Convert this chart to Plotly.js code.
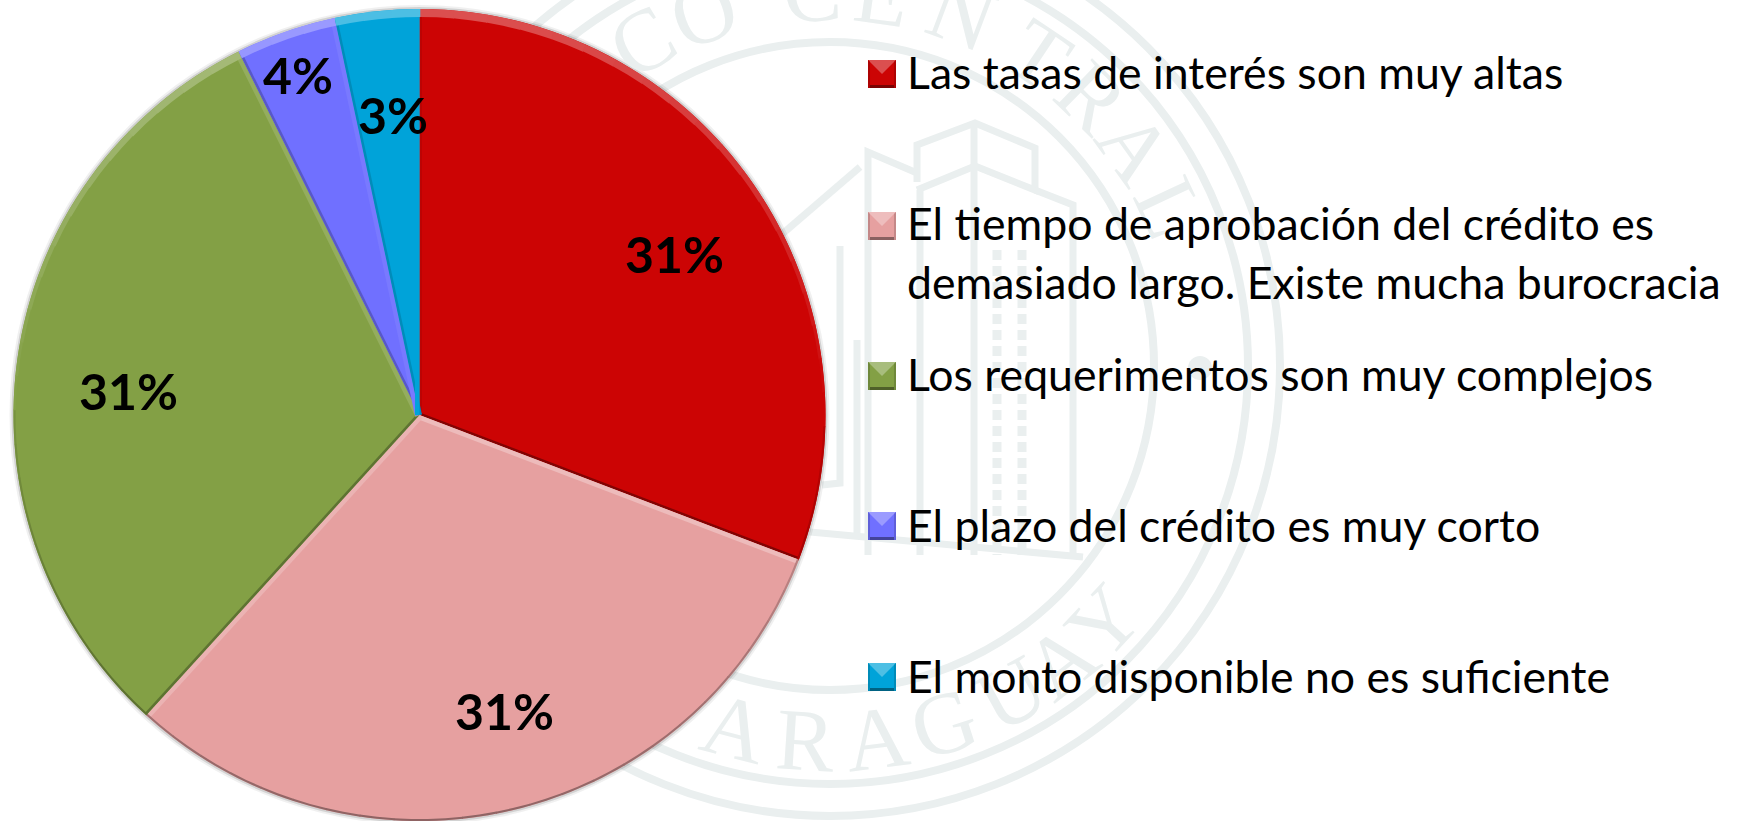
<!DOCTYPE html>
<html><head><meta charset="utf-8">
<script src="https://cdn.plot.ly/plotly-3.0.1.min.js"></script>
<style>html,body{margin:0;padding:0;background:#fff;overflow:hidden}#chart{width:1742px;height:821px}</style>
</head><body><div id="chart"></div>
<script>
// --- data ---
const categories = ["Las tasas de interés son muy altas",
  "El tiempo de aprobación del crédito es<br>demasiado largo. Existe mucha burocracia",
  "Los requerimentos son muy complejos",
  "El plazo del crédito es muy corto",
  "El monto disponible no es suficiente"];
const values = [30.8, 30.95, 30.9, 4.0, 3.35];
const colors = ["#CC0404", "#E6A0A0", "#83A045", "#7070FF", "#00A3D9"];
// --- placement (pixels of the 1742x821 frame) ---
const W = 1742, H = 821;
const pie = {cx: 419.5, cy: 415, r: 406};
const labelPos = [[674,254],[505,711],[128,391],[298,75],[393,115]];
const swatchY = [74,226,376,526,677];
const lineBase = [[87],[237,296],[388],[539],[690]];
const seal = {cx: 830, cy: 366, rings: [324,418,450], r: 375, color: "#EAEFEF"};
const sealTop = [["C",-30],["O",-19.6],["C",-2.6],["E",8],["N",20.6],["T",33.8],["R",44.3],["A",54.3],["L",65]];
const sealBottom = [["Y",47],["A",38],["U",29],["G",17.7],["A",7.2],["R",-3.7],["A",-14.6]];
const building = [
  "M917,182 L917,145 L975,123 L1035,148 L1035,190 L975,166 L917,190",
  "M868,555 L868,152 L917,173","M860,167 L781,235","M840,246 L840,483 L822,485",
  "M857,340 L857,535","M810,532 L1083,557","M920,190 L920,555","M974,125 L974,555",
  "M1035,190 L1073,205 L1073,555"];
const buildingDash = ["M997,250 L997,555","M1022,250 L1022,555"];

const X = p => p / W, Y = p => 1 - p / H;
const path = pts => pts.map((q,i)=>(i?"L":"M")+X(q[0]).toFixed(5)+","+Y(q[1]).toFixed(5)).join(" ")+" Z";
const mix = (hex, t, v) => { const n=parseInt(hex.slice(1),16);
  const c=[n>>16,(n>>8)&255,n&255].map(k=>Math.round(k+(v-k)*t)); return `rgb(${c})`; };
const shade = (hex,l) => l>0 ? mix(hex,l*0.3,255) : mix(hex,0.08+0.3*(-l),0);
const polar = (r,a) => [pie.cx+r*Math.sin(a), pie.cy-r*Math.cos(a)];
const shapes = [], annotations = [];

// watermark
const wmLine = {color: seal.color, width: 8};
seal.rings.forEach(r => shapes.push({type:"circle",layer:"below",xref:"paper",yref:"paper",
  x0:X(seal.cx-r),x1:X(seal.cx+r),y0:Y(seal.cy+r),y1:Y(seal.cy-r),line:wmLine}));
shapes.push({type:"circle",layer:"below",xref:"paper",yref:"paper",x0:X(1188),x1:X(1212),y0:Y(380),y1:Y(356),
  fillcolor:seal.color,line:{width:0}});
const toPaperPath = d => d.replace(/([ML])(\d+),(\d+)/g,(m,c,a,b)=>c+X(+a).toFixed(5)+","+Y(+b).toFixed(5));
building.forEach(d => shapes.push({type:"path",layer:"below",xref:"paper",yref:"paper",path:toPaperPath(d),line:{color:seal.color,width:7}}));
buildingDash.forEach(d => shapes.push({type:"path",layer:"below",xref:"paper",yref:"paper",path:toPaperPath(d),line:{color:seal.color,width:9,dash:"10px,6px"}}));
// soft shadow round the pie
[[4,0.06],[2,0.12]].forEach(s => shapes.push({type:"circle",layer:"below",xref:"paper",yref:"paper",
  x0:X(pie.cx-pie.r-s[0]),x1:X(pie.cx+pie.r+s[0]),y0:Y(pie.cy+pie.r+s[0]),y1:Y(pie.cy-pie.r-s[0]),
  fillcolor:`rgba(0,0,0,${s[1]})`,line:{width:0}}));
const sealLetter = (ch,deg,bottom) => { const a=deg*Math.PI/180;
  const x = seal.cx+seal.r*Math.sin(a), y = bottom ? seal.cy+seal.r*Math.cos(a) : seal.cy-seal.r*Math.cos(a);
  annotations.push({xref:"paper",yref:"paper",x:X(x),y:Y(y),text:ch,showarrow:false,xanchor:"center",yanchor:"middle",
    textangle:bottom?-deg:deg,font:{family:"Liberation Serif",size:88,color:seal.color}}); };
sealTop.forEach(s=>sealLetter(s[0],s[1],false));
sealBottom.forEach(s=>sealLetter(s[0],s[1],true));

// bevel on the slices, derived from the values
const total = values.reduce((a,b)=>a+b,0);
let cum = 0;
values.forEach((v,i)=>{
  const a0 = cum/total*2*Math.PI; cum += v; const a1 = cum/total*2*Math.PI;
  const base = colors[i];
  const addEdge = (a,sign) => {
    const l = sign>0 ? Math.sin(a) : -Math.sin(a);
    const w = l>0 ? 4.5 : 2.5;
    const d = [sign*Math.cos(a), sign*Math.sin(a)];
    const rim = polar(pie.r-1,a);
    shapes.push({type:"path",layer:"above",xref:"paper",yref:"paper",line:{width:0},fillcolor:shade(base,l),
      path:path([[pie.cx,pie.cy],rim,[rim[0]+d[0]*w,rim[1]+d[1]*w],[pie.cx+d[0]*w,pie.cy+d[1]*w]])});
  };
  addEdge(a0,1); addEdge(a1,-1);
  const n = Math.max(2,Math.ceil((a1-a0)/(Math.PI/36)));
  for(let k=0;k<n;k++){
    const s=a0+(a1-a0)*k/n, e=a0+(a1-a0)*(k+1)/n+0.002, m=(s+e)/2;
    const l=Math.cos(m), w=2+6*Math.max(l,0);
    shapes.push({type:"path",layer:"above",xref:"paper",yref:"paper",line:{width:0},fillcolor:shade(base,l),
      path:path([polar(pie.r,s),polar(pie.r,(s+m)/2),polar(pie.r,m),polar(pie.r,(m+e)/2),polar(pie.r,e),polar(pie.r-w,e),polar(pie.r-w,m),polar(pie.r-w,s)])});
  }
});

// slice labels
values.forEach((v,i)=>annotations.push({xref:"paper",yref:"paper",x:X(labelPos[i][0]),y:Y(labelPos[i][1]),
  text:Math.round(v/total*100)+"%",showarrow:false,xanchor:"center",yanchor:"middle",
  font:{family:"Lato",size:50,weight:700,color:"#000"}}));

// legend
const sx0=868, sx1=896, sh=14;
colors.forEach((c,i)=>{
  const y=swatchY[i], t=y-sh, b=y+sh, mx=(sx0+sx1)/2;
  const ps=(pts,f)=>shapes.push({type:"path",layer:"above",xref:"paper",yref:"paper",line:{width:0},fillcolor:f,path:path(pts)});
  ps([[sx0,t],[sx1,t],[sx1,b],[sx0,b]],c);
  ps([[sx0,t],[sx1,t],[mx,y]],mix(c,0.3,255));
  ps([[sx0,b-3],[sx1,b-3],[sx1,b],[sx0,b]],mix(c,0.4,0));
  ps([[sx0,t],[sx0+2,t+2],[sx0+2,b],[sx0,b]],mix(c,0.15,0));
  ps([[sx1,t],[sx1-2,t+2],[sx1-2,b],[sx1,b]],mix(c,0.15,0));
  categories[i].split("<br>").forEach((line,j)=>annotations.push({xref:"paper",yref:"paper",
    x:X(908),y:Y(lineBase[i][j]-15),text:line,showarrow:false,xanchor:"left",yanchor:"middle",align:"left",xshift:-3,
    font:{family:"Lato",size:44.6,color:"#000"}}));
});

Plotly.newPlot("chart",[{type:"pie",labels:categories.map(s=>s.replace("<br>"," ")),values:values,sort:false,direction:"clockwise",rotation:0,
  marker:{colors:colors,line:{width:0}},textinfo:"none",hoverinfo:"label+percent",showlegend:false,
  domain:{x:[X(pie.cx-pie.r),X(pie.cx+pie.r)],y:[Y(pie.cy+pie.r),Y(pie.cy-pie.r)]}}],
  {width:W,height:H,margin:{l:0,r:0,t:0,b:0},paper_bgcolor:"#fff",plot_bgcolor:"#fff",showlegend:false,shapes:shapes,annotations:annotations},
  {displayModeBar:false,staticPlot:true});
</script></body></html>
